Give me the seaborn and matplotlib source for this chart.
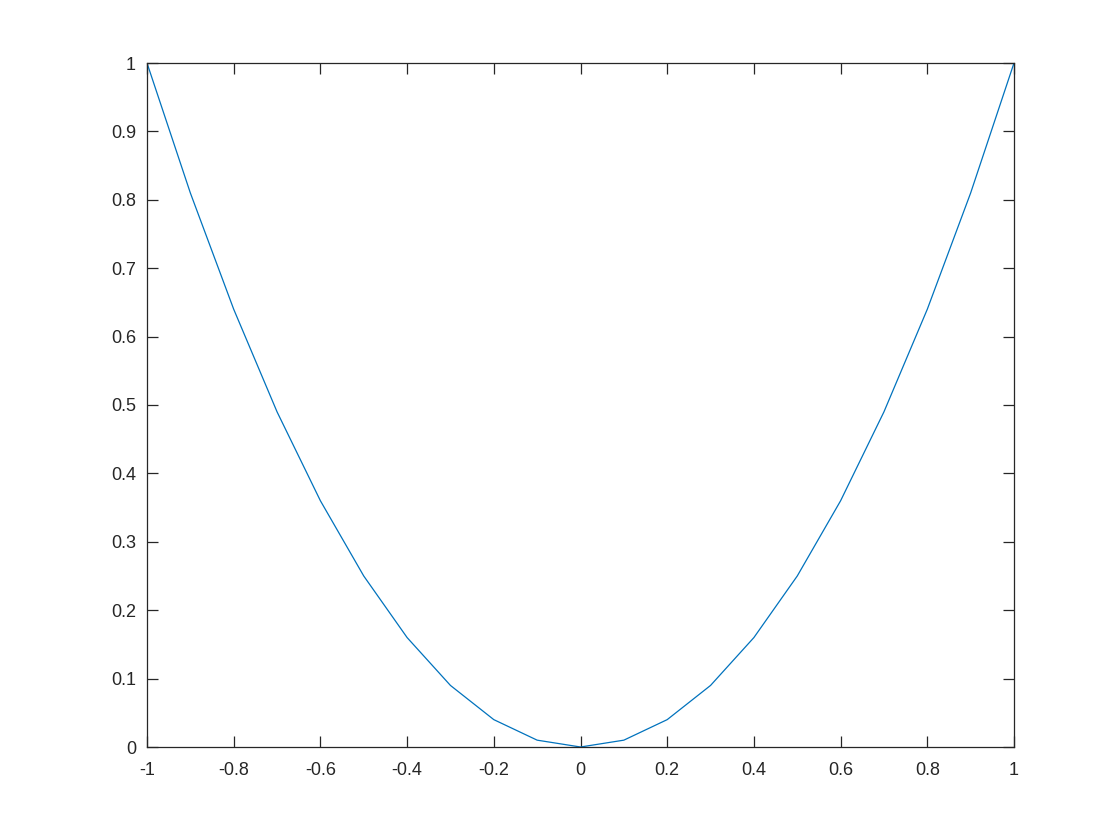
import matplotlib
matplotlib.use("Agg")
import matplotlib.pyplot as plt
import seaborn as sns
import pandas as pd

x_vals = [-1.0, -0.9, -0.8, -0.7, -0.6, -0.5, -0.4, -0.3, -0.2, -0.1, 0.0,
          0.1, 0.2, 0.3, 0.4, 0.5, 0.6, 0.7, 0.8, 0.9, 1.0]
y_vals = [1.00, 0.81, 0.64, 0.49, 0.36, 0.25, 0.16, 0.09, 0.04, 0.01, 0.00,
          0.01, 0.04, 0.09, 0.16, 0.25, 0.36, 0.49, 0.64, 0.81, 1.00]
x_ticks = [-1, -0.8, -0.6, -0.4, -0.2, 0, 0.2, 0.4, 0.6, 0.8, 1]
x_tick_labels = ["-1", "-0.8", "-0.6", "-0.4", "-0.2", "0", "0.2", "0.4", "0.6", "0.8", "1"]
y_ticks = [0, 0.1, 0.2, 0.3, 0.4, 0.5, 0.6, 0.7, 0.8, 0.9, 1]
y_tick_labels = ["0", "0.1", "0.2", "0.3", "0.4", "0.5", "0.6", "0.7", "0.8", "0.9", "1"]

sns.set_theme(style="ticks")
plt.rcParams['font.family'] = ['Liberation Sans', 'DejaVu Sans']

df = pd.DataFrame({"x": x_vals, "y": y_vals})

fig = plt.figure(figsize=(11.2, 8.4), dpi=100)
ax = fig.add_axes([147/1120, 1 - 747/840, (1014 - 147)/1120, (747 - 63)/840])
sns.lineplot(data=df, x="x", y="y", ax=ax, color="#0072BD", linewidth=0.9)

ax.set_xlim(-1, 1)
ax.set_ylim(0, 1)
ax.set_xticks(x_ticks)
ax.set_xticklabels(x_tick_labels)
ax.set_yticks(y_ticks)
ax.set_yticklabels(y_tick_labels)
ax.set_xlabel("")
ax.set_ylabel("")

for s in ax.spines.values():
    s.set_visible(True)
    s.set_color("#262626")
    s.set_linewidth(0.9)

ax.tick_params(axis="both", direction="in", length=8, width=0.9,
               colors="#262626", labelsize=13, top=True, right=True,
               labeltop=False, labelright=False)
ax.tick_params(axis="x", pad=10.5)
ax.tick_params(axis="y", pad=8)
ax.grid(False)

fig.savefig("out.png", dpi=100, facecolor="white")
